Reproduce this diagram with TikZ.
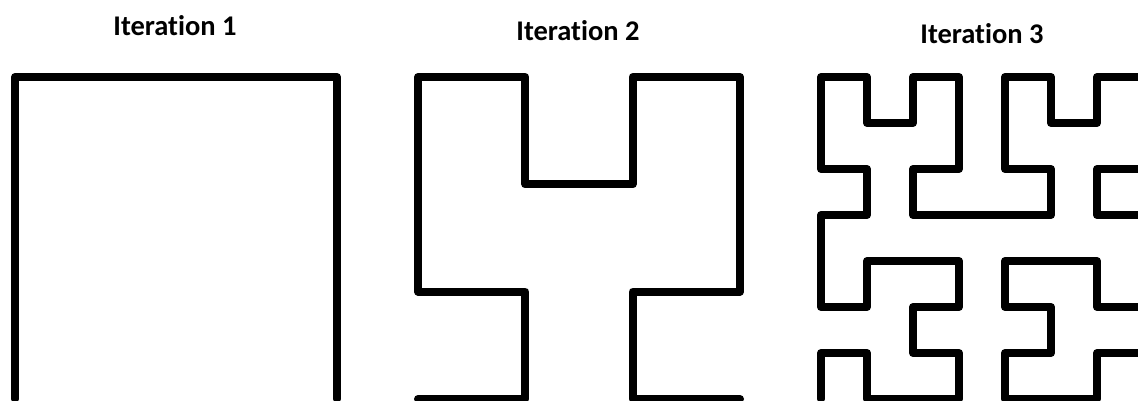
\documentclass[tikz,border=0pt]{standalone}
\usepackage{fontspec}
\setmainfont{Carlito}[Ligatures={NoCommon}]
\tikzset{
  curve/.style={line width=8pt, line join=round, line cap=round, black},
  lbl/.style={anchor=base, inner sep=0pt, font=\bfseries\fontsize{28.5}{32}\selectfont}
}
\begin{document}
\begin{tikzpicture}[x=1pt,y=-1pt]
\useasboundingbox (0,0) rectangle (1138,401);
\clip (0,0) rectangle (1138,401);
\fill[white] (0,0) rectangle (1138,401);
% labels
\node[lbl] (l1) at (175,36) {Iteration 1};
\node[lbl] (l2) at (578,41) {Iteration 2};
\node[lbl] (l3) at (982,44) {Iteration 3};
% iteration 1
\begin{scope}[shift={(15,399)}, x=322pt, y=322pt]
\draw[curve] (0,0)--(0,1)--(1,1)--(1,0);
\end{scope}
% iteration 2
\begin{scope}[shift={(418,399)}, x=107.333pt, y=107.333pt]
\draw[curve] (0,0)--(1,0)--(1,1)--(0,1)--(0,2)--(0,3)--(1,3)--(1,2)--(2,2)--(2,3)--(3,3)--(3,2)--(3,1)--(2,1)--(2,0)--(3,0);
\end{scope}
% iteration 3
\begin{scope}[shift={(821,399)}, x=46pt, y=46pt]
\draw[curve] (0,0)--(0,1)--(1,1)--(1,0)--(2,0)--(3,0)--(3,1)--(2,1)--(2,2)--(3,2)--(3,3)--(2,3)--(1,3)--(1,2)--(0,2)--(0,3)
  --(0,4)--(1,4)--(1,5)--(0,5)--(0,6)--(0,7)--(1,7)--(1,6)--(2,6)--(2,7)--(3,7)--(3,6)--(3,5)--(2,5)--(2,4)--(3,4)
  --(4,4)--(5,4)--(5,5)--(4,5)--(4,6)--(4,7)--(5,7)--(5,6)--(6,6)--(6,7)--(7,7)--(7,6)--(7,5)--(6,5)--(6,4)--(7,4)
  --(7,3)--(7,2)--(6,2)--(6,3)--(5,3)--(4,3)--(4,2)--(5,2)--(5,1)--(4,1)--(4,0)--(5,0)--(6,0)--(6,1)--(7,1)--(7,0);
\end{scope}
\end{tikzpicture}
\end{document}
